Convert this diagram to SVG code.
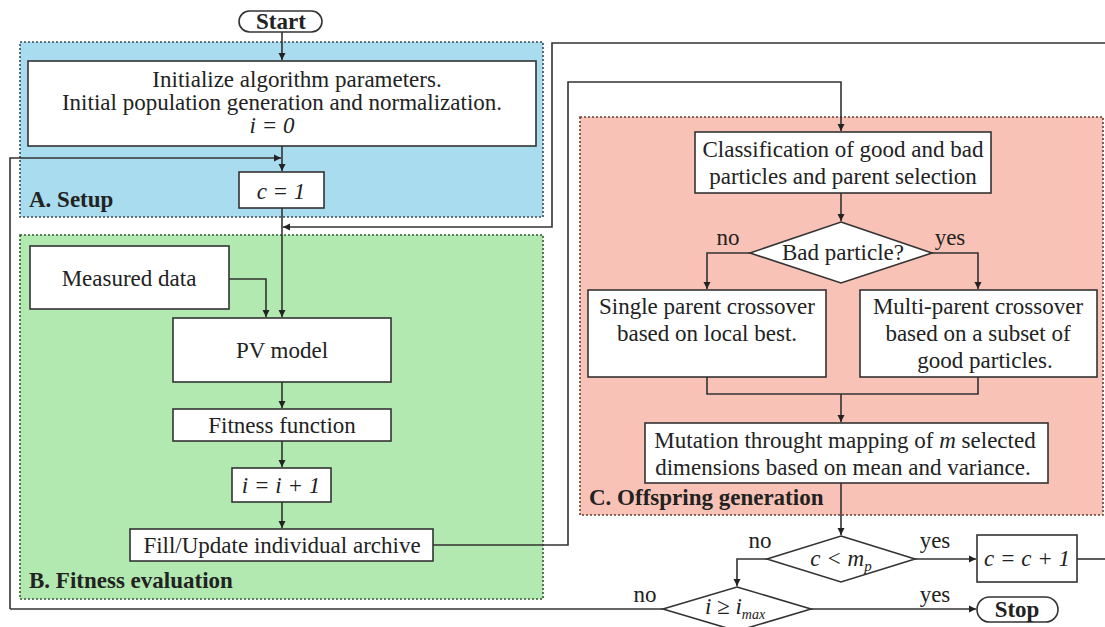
<svg xmlns="http://www.w3.org/2000/svg" width="1105" height="627" viewBox="0 0 1105 627" font-family="'Liberation Serif', 'DejaVu Serif', serif">
<style>
text{font-family:'Liberation Serif','DejaVu Serif',serif;fill:#222;font-size:23px}
.c{text-anchor:middle}
.i{font-style:italic}
.b{font-weight:bold}
.lbl{font-weight:bold;font-size:23px}
.box{fill:#fff;stroke:#333;stroke-width:1.6}
.ln{fill:none;stroke:#333;stroke-width:1.6}
.area{stroke-width:1.6;stroke-dasharray:2 2}
</style>
<defs>
<marker id="ah" markerWidth="8" markerHeight="8" refX="7" refY="4" orient="auto" markerUnits="userSpaceOnUse">
<path d="M0,0.5 L7,4 L0,7.5 Z" fill="#222"/>
</marker>
</defs>
<rect width="1105" height="627" fill="#fff"/>
<g id="areas">
<rect class="area" x="20" y="42" width="523" height="175" fill="#a8dcee" stroke="#3a4a55"/>
<rect class="area" x="20" y="235" width="523" height="364" fill="#b2e9b0" stroke="#2e5a2e"/>
<rect class="area" x="580" y="117" width="523" height="398" fill="#f9c2b6" stroke="#6a3a30"/>
<text class="lbl" x="29" y="207">A. Setup</text>
<text class="lbl" x="29" y="588">B. Fitness evaluation</text>
<text class="lbl" x="589" y="505">C. Offspring generation</text>
</g>
<g id="connectors">
<path class="ln" d="M282,32 V60" marker-end="url(#ah)"/>
<path class="ln" d="M282,146 V171" marker-end="url(#ah)"/>
<path class="ln" d="M10,609 V158 H281" marker-end="url(#ah)"/>
<path class="ln" d="M282,208 V317" marker-end="url(#ah)"/>
<path class="ln" d="M1106,559 V43 H552 V227 H283" marker-end="url(#ah)"/>
<path class="ln" d="M229,279 H266 V317" marker-end="url(#ah)"/>
<path class="ln" d="M282,382 V408" marker-end="url(#ah)"/>
<path class="ln" d="M282,441 V467" marker-end="url(#ah)"/>
<path class="ln" d="M282,502 V528" marker-end="url(#ah)"/>
<path class="ln" d="M433,545 H568 V82 H841 V131" marker-end="url(#ah)"/>
<path class="ln" d="M841,193 V221" marker-end="url(#ah)"/>
<path class="ln" d="M750,253 H707 V289" marker-end="url(#ah)"/>
<path class="ln" d="M932,253 H978 V289" marker-end="url(#ah)"/>
<path class="ln" d="M707,377 V394 H978 V377"/>
<path class="ln" d="M841,394 V422" marker-end="url(#ah)"/>
<path class="ln" d="M841,483 V535" marker-end="url(#ah)"/>
<path class="ln" d="M915,559 H976" marker-end="url(#ah)"/>
<path class="ln" d="M1077,559 H1106"/>
<path class="ln" d="M767,559 H737 V586" marker-end="url(#ah)"/>
<path class="ln" d="M663,609 H10"/>
<path class="ln" d="M811,609 H976" marker-end="url(#ah)"/>
<text class="c" x="728" y="245">no</text>
<text class="c" x="950" y="245">yes</text>
<text class="c" x="760" y="548">no</text>
<text class="c" x="935" y="548">yes</text>
<text class="c" x="645" y="602">no</text>
<text class="c" x="935" y="602">yes</text>
</g>
<g id="start">
<rect class="box" x="239" y="11" width="83" height="21" rx="10.5"/>
<text class="c b" x="281" y="29">Start</text>
</g>
<g id="init">
<rect class="box" x="28" y="61" width="508" height="85"/>
<text class="c" x="297" y="87">Initialize algorithm parameters.</text>
<text class="c" x="282" y="110">Initial population generation and normalization.</text>
<text class="c i" x="272" y="133">i = 0</text>
</g>
<g id="c1">
<rect class="box" x="239" y="172" width="85" height="36"/>
<text class="c i" x="281" y="199">c = 1</text>
</g>
<g id="measured">
<rect class="box" x="30" y="246" width="199" height="63"/>
<text class="c" x="129" y="286">Measured data</text>
</g>
<g id="pv">
<rect class="box" x="173" y="318" width="218" height="64"/>
<text class="c" x="282" y="358">PV model</text>
</g>
<g id="fitness">
<rect class="box" x="173" y="409" width="218" height="32"/>
<text class="c" x="282" y="433">Fitness function</text>
</g>
<g id="iinc">
<rect class="box" x="232" y="468" width="99" height="34"/>
<text class="c i" x="281" y="493">i = i + 1</text>
</g>
<g id="fill">
<rect class="box" x="130" y="529" width="303" height="32"/>
<text class="c" x="282" y="553">Fill/Update individual archive</text>
</g>
<g id="classif">
<rect class="box" x="695" y="132" width="296" height="61"/>
<text class="c" x="843" y="157">Classification of good and bad</text>
<text class="c" x="843" y="184">particles and parent selection</text>
</g>
<g id="bad">
<polygon class="box" points="841,222 932,253 841,283 750,253"/>
<text class="c" x="843" y="260">Bad particle?</text>
</g>
<g id="single">
<rect class="box" x="588" y="290" width="238" height="87"/>
<text class="c" x="707" y="314">Single parent crossover</text>
<text class="c" x="707" y="341">based on local best.</text>
</g>
<g id="multi">
<rect class="box" x="860" y="290" width="237" height="87"/>
<text class="c" x="978" y="314">Multi-parent crossover</text>
<text class="c" x="978" y="341">based on a subset of</text>
<text class="c" x="985" y="368">good particles.</text>
</g>
<g id="mutation">
<rect class="box" x="645" y="423" width="403" height="60"/>
<text class="c" x="845" y="448">Mutation throught mapping of <tspan class="i">m</tspan> selected</text>
<text class="c" x="843" y="475">dimensions based on mean and variance.</text>
</g>
<g id="cmp">
<polygon class="box" points="841,536 915,559 841,582 767,559"/>
<text class="c i" x="841" y="566">c &lt; m<tspan font-size="15" dy="5">p</tspan></text>
</g>
<g id="cinc">
<rect class="box" x="977" y="535" width="100" height="47"/>
<text class="c i" x="1027" y="566">c = c + 1</text>
</g>
<g id="imax">
<polygon class="box" points="737,587 811,609 737,631 663,609"/>
<text class="c i" x="735" y="614">i ≥ i<tspan font-size="14" dy="5">max</tspan></text>
</g>
<g id="stop">
<rect class="box" x="977" y="597" width="81" height="25" rx="12.5"/>
<text class="c b" x="1017" y="617">Stop</text>
</g>
</svg>
